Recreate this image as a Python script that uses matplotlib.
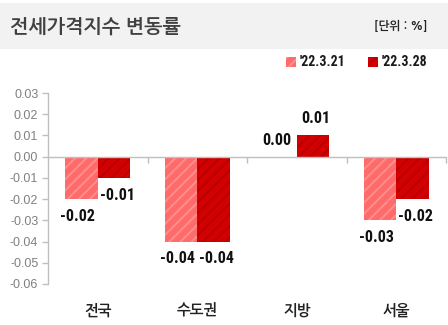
import matplotlib
matplotlib.use("Agg")
import matplotlib.pyplot as plt
from matplotlib.patches import Rectangle
from matplotlib.ticker import FixedLocator, FuncFormatter
import numpy as np

categories = ["전국", "수도권", "지방", "서울"]
series_names = ["'22.3.21", "'22.3.28"]
values_0321 = [-0.02, -0.04, 0.00, -0.03]
values_0328 = [-0.01, -0.04, 0.01, -0.02]
yticks = [0.03, 0.02, 0.01, 0.00, -0.01, -0.02, -0.03, -0.04, -0.05, -0.06]
title = "전세가격지수 변동률"
unit = "[단위 : %]"

face_colors = ["#FF6B6B", "#D20000"]
hatch_colors = ["#FF8E8E", "#B80000"]

KR = ["NanumGothic", "Noto Sans CJK KR", "DejaVu Sans"]
NUM = ["Roboto Condensed", "Liberation Sans", "DejaVu Sans"]
TICK = ["Liberation Sans", "DejaVu Sans"]

plt.rcParams["hatch.linewidth"] = 1.4

W, H = 448, 325
fig = plt.figure(figsize=(W / 100, H / 100), dpi=100)
fig.patch.set_facecolor("white")

# Title band
fig.add_artist(Rectangle((0, 1 - 49 / H), 1, 46 / H, transform=fig.transFigure,
                         facecolor="#F2F2F2", edgecolor="none"))
fig.text(10 / W, 1 - 26 / H, title, family=KR, fontsize=14, weight="bold",
         color="#404040", va="center", ha="left")
fig.text(427 / W, 1 - 26 / H, unit, family=KR, fontsize=8.5, weight="bold",
         color="#262626", va="center", ha="right")

# Legend
leg_x = [286, 368]
for i, name in enumerate(series_names):
    fig.add_artist(Rectangle((leg_x[i] / W, 1 - 67 / H), 10 / W, 10 / H,
                             transform=fig.transFigure, facecolor=face_colors[i],
                             edgecolor=hatch_colors[i], linewidth=0, hatch="///"))
    fig.text((leg_x[i] + 14) / W, 1 - 62 / H, name, family=NUM,
             fontsize=10, weight="bold", color="#1a1a1a", va="center", ha="left")

# Axes
left, right = 48 / W, 446 / W
bottom, top = (H - 284) / H, (H - 93) / H
ax = fig.add_axes([left, bottom, right - left, top - bottom])
ax.set_xlim(-0.5, len(categories) - 0.5)
ax.set_ylim(-0.06, 0.03)

x = np.arange(len(categories))
bw = 0.327
offsets = [-bw / 2, bw / 2]
label_dx_px = [-4, 3]
series = [values_0321, values_0328]
for i, vals in enumerate(series):
    ax.bar(x + offsets[i], vals, width=bw, color=face_colors[i],
           edgecolor=hatch_colors[i], linewidth=0, hatch="///", zorder=2)
    for xi, v in zip(x + offsets[i], vals):
        dy = 12 if v >= 0 else -12.5
        ax.annotate(f"{v:.2f}", (xi, v), xytext=(label_dx_px[i] * 0.72, dy),
                    textcoords="offset points", ha="center", va="center",
                    family=NUM, fontsize=11.5, weight="bold", color="#111111")

for s in ["top", "right"]:
    ax.spines[s].set_visible(False)
ax.spines["left"].set_color("#BFBFBF")
ax.spines["left"].set_linewidth(1)
ax.spines["bottom"].set_position(("data", 0))
ax.spines["bottom"].set_color("#BFBFBF")
ax.spines["bottom"].set_linewidth(1)
ax.spines["bottom"].set_zorder(3)

ax.yaxis.set_major_locator(FixedLocator(yticks))
ax.yaxis.set_major_formatter(FuncFormatter(lambda v, p: f"{v:.2f}" if abs(v) > 1e-9 else "0.00"))
ax.tick_params(axis="y", direction="out", length=4, width=1, color="#BFBFBF",
               labelcolor="#808080", labelsize=9, pad=3)
for lab in ax.get_yticklabels():
    lab.set_family(TICK)

ax.xaxis.set_major_locator(FixedLocator([0.5, 1.5, 2.5, 3.5]))
ax.tick_params(axis="x", direction="out", length=4, width=1, color="#BFBFBF",
               labelbottom=False)

for xi, c in zip(x, categories):
    ax.text(xi, -0.06 - 26 / 21.2 * 0.01, c, family=KR, fontsize=10.5, weight="bold",
            color="#222222", ha="center", va="center", clip_on=False)

fig.savefig("out.png", dpi=100, facecolor="white")
